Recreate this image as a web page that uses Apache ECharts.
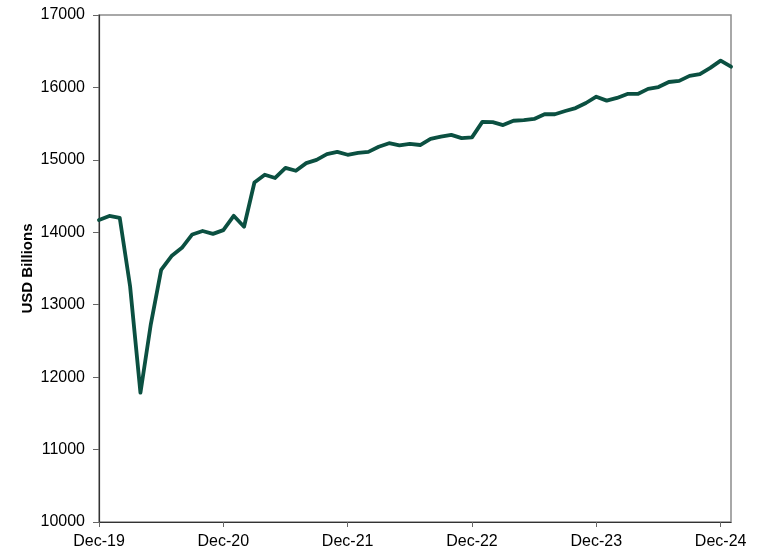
<!DOCTYPE html>
<html>
<head>
<meta charset="utf-8">
<script src="https://cdn.jsdelivr.net/npm/echarts@6/dist/echarts.min.js"></script>
<style>html,body{margin:0;padding:0;background:#fff}#c{width:770px;height:559px}</style>
</head>
<body>
<div id="c"></div>
<script>
const categories = [
  "Dec-19","Jan-20","Feb-20","Mar-20","Apr-20","May-20","Jun-20","Jul-20","Aug-20","Sep-20","Oct-20","Nov-20",
  "Dec-20","Jan-21","Feb-21","Mar-21","Apr-21","May-21","Jun-21","Jul-21","Aug-21","Sep-21","Oct-21","Nov-21",
  "Dec-21","Jan-22","Feb-22","Mar-22","Apr-22","May-22","Jun-22","Jul-22","Aug-22","Sep-22","Oct-22","Nov-22",
  "Dec-22","Jan-23","Feb-23","Mar-23","Apr-23","May-23","Jun-23","Jul-23","Aug-23","Sep-23","Oct-23","Nov-23",
  "Dec-23","Jan-24","Feb-24","Mar-24","Apr-24","May-24","Jun-24","Jul-24","Aug-24","Sep-24","Oct-24","Nov-24",
  "Dec-24","Jan-25"
];
const values = [
  14170,14225,14200,13255,11785,12730,13480,13672,13785,13970,14018,13978,
  14030,14228,14077,14688,14795,14750,14890,14850,14955,15000,15080,15110,
  15070,15095,15110,15180,15230,15200,15220,15205,15290,15320,15345,15300,
  15310,15525,15520,15480,15540,15550,15565,15630,15630,15675,15715,15785,
  15872,15818,15855,15910,15910,15980,16005,16075,16090,16160,16185,16270,
  16370,16286
];
const yTicks = { min: 10000, max: 17000, interval: 1000 };
const yAxisTitle = "USD Billions";

const chart = echarts.init(document.getElementById('c'), null, {renderer: 'canvas'});
const font = '"Liberation Sans", Arial, sans-serif';
chart.setOption({
  animation: false,
  backgroundColor: '#fff',
  grid: { left: 99, right: 39, top: 15, bottom: 37, show: true, borderColor: '#8c8c8c', borderWidth: 1.5, backgroundColor: 'transparent' },
  xAxis: {
    type: 'category',
    data: categories,
    boundaryGap: false,
    axisLine: { show: true, lineStyle: { color: '#333', width: 1.2 } },
    axisTick: { show: true, interval: 11, length: 5, inside: false, lineStyle: { color: '#666', width: 1 } },
    axisLabel: { interval: 11, color: '#000', fontFamily: font, fontSize: 16, margin: 12 },
    splitLine: { show: false }
  },
  yAxis: {
    type: 'value',
    min: yTicks.min, max: yTicks.max, interval: yTicks.interval,
    name: yAxisTitle,
    nameLocation: 'middle',
    nameRotate: 90,
    nameGap: 64,
    nameMoveOverlap: false,
    nameTextStyle: { fontFamily: font, fontSize: 15, fontWeight: 'bold', color: '#000' },
    axisLine: { show: true, lineStyle: { color: '#333', width: 1.2 } },
    axisTick: { show: true, length: 6, lineStyle: { color: '#666', width: 1 } },
    axisLabel: { color: '#000', fontFamily: font, fontSize: 16, margin: 14, formatter: v => String(v) },
    splitLine: { show: false }
  },
  series: [{
    type: 'line',
    data: values,
    showSymbol: false,
    symbol: 'none',
    lineStyle: { color: '#0b5041', width: 3.8, join: 'round', cap: 'round' },
    itemStyle: { color: '#0b5041' }
  }]
});
</script>
</body>
</html>
